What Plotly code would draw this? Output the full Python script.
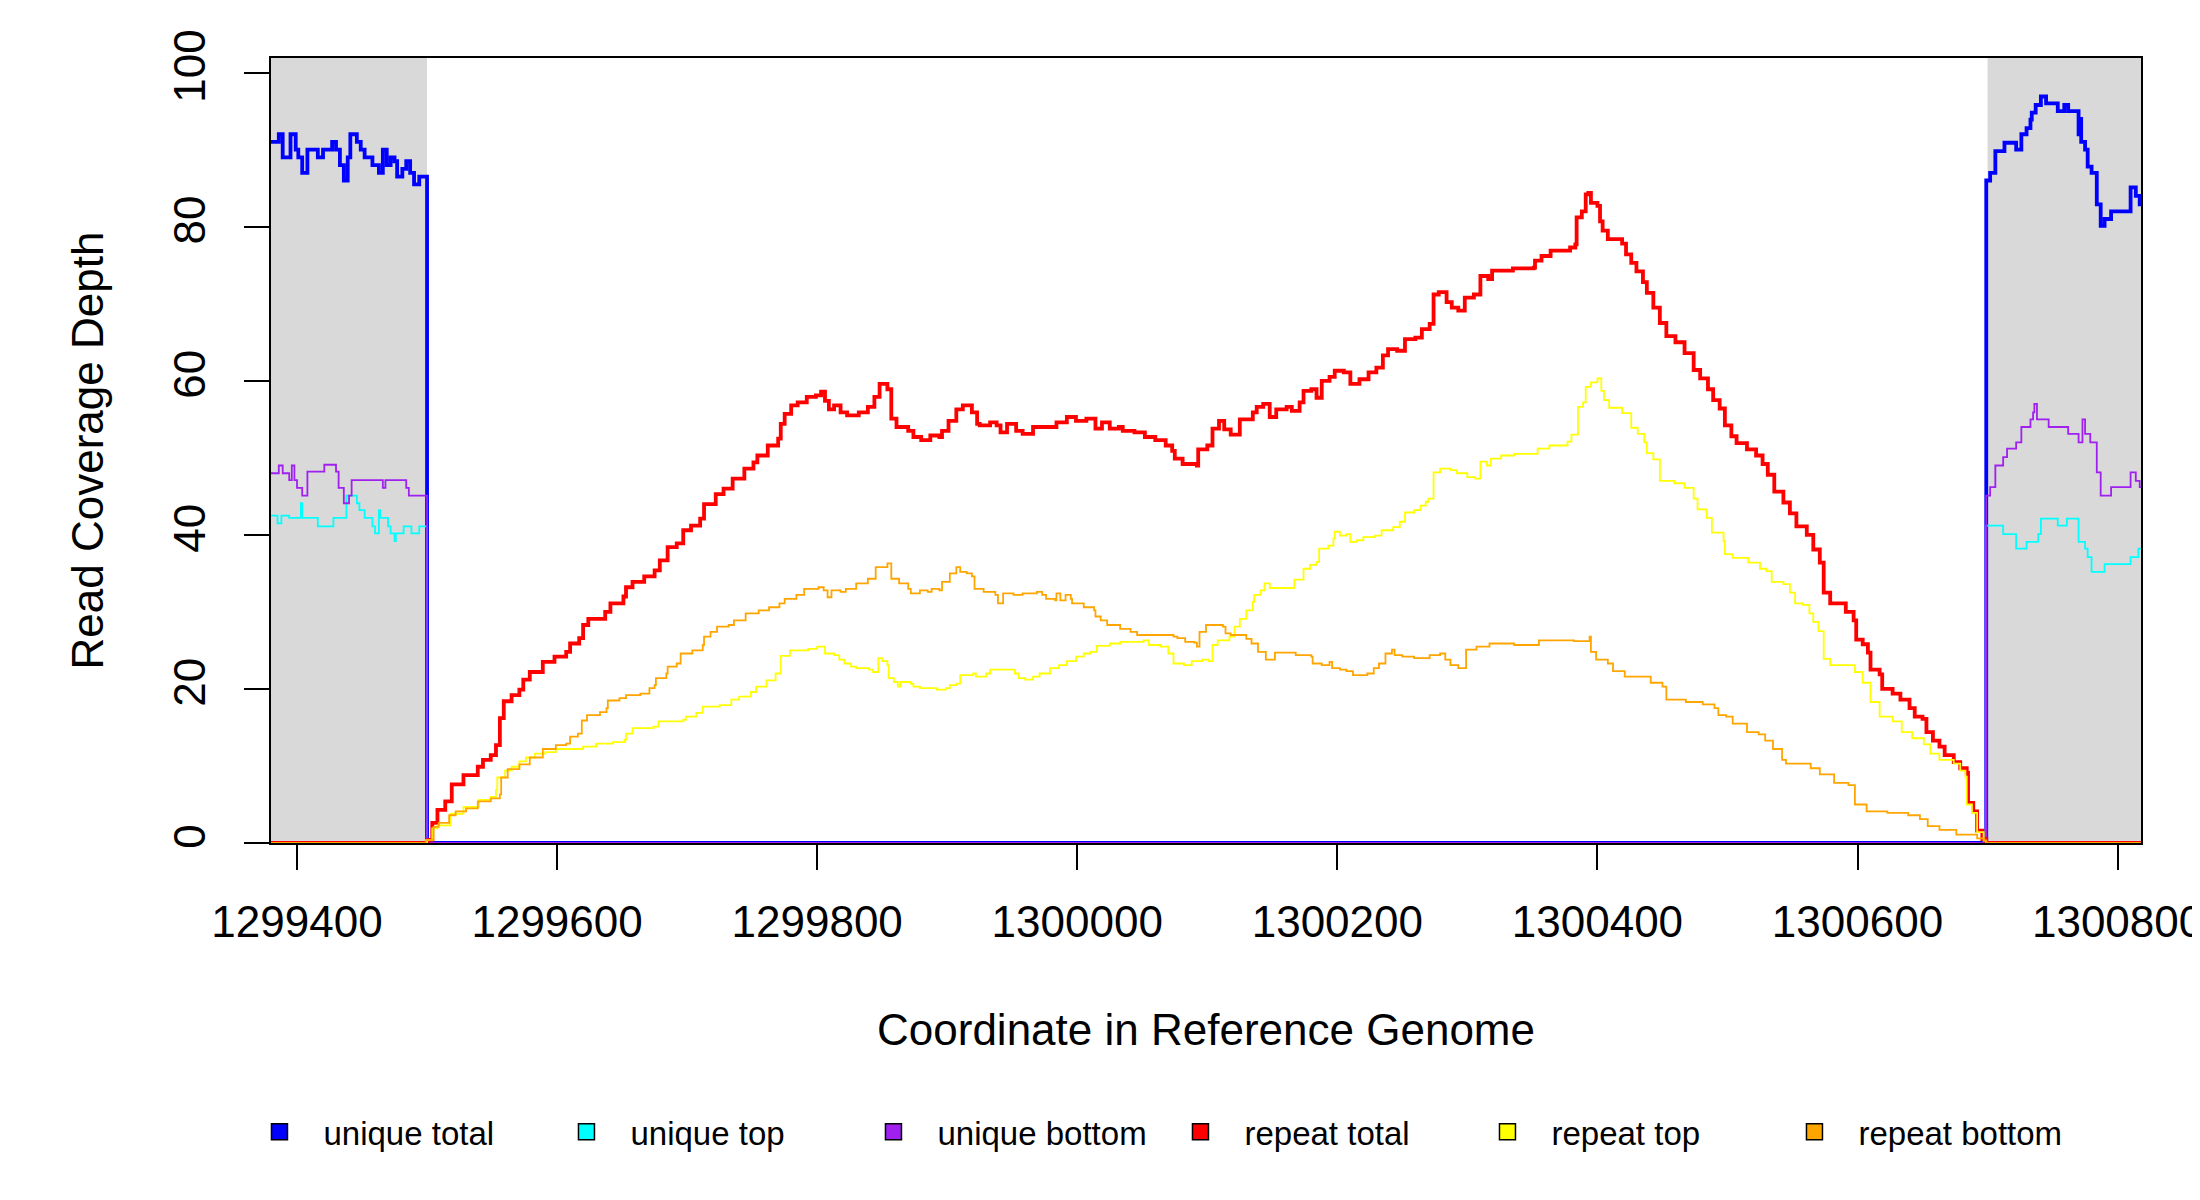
import plotly.graph_objects as go

FONT = "Liberation Sans, Arial, Helvetica, sans-serif"

# ---------------- data ----------------
x_range = [1299380, 1300818]
y_range = [0, 101.9]
flank_left = [1299380, 1299500]
flank_right = [1300700, 1300818]
x_ticks = [1299400, 1299600, 1299800, 1300000, 1300200, 1300400, 1300600, 1300800]
y_ticks = [0, 20, 40, 60, 80, 100]

unique_total_x = [1299380, 1299386, 1299389, 1299395, 1299399, 1299401, 1299404, 1299408, 1299416, 1299420,
                  1299427, 1299430, 1299433, 1299436, 1299439, 1299441, 1299446, 1299449, 1299452, 1299458,
                  1299463, 1299466, 1299469, 1299472, 1299475, 1299477, 1299481, 1299484, 1299487, 1299490,
                  1299494, 1299500, 1300699, 1300702, 1300706, 1300713, 1300722, 1300726, 1300730, 1300733,
                  1300734, 1300737, 1300741, 1300745, 1300754, 1300759, 1300762, 1300770, 1300771, 1300772,
                  1300775, 1300777, 1300780, 1300784, 1300787, 1300790, 1300795, 1300810, 1300814, 1300817,
                  1300818]
unique_total_y = [91, 92, 89, 92, 90, 89, 87, 90, 89, 90,
                  91, 90, 88, 86, 89, 92, 91, 90, 89, 88,
                  87, 90, 88, 89, 88.5, 86.5, 87.5, 88.5, 87, 85.5,
                  86.5, 0, 86, 87, 89.8, 90.9, 90, 92, 92.8, 93.9,
                  94.8, 95.8, 96.9, 96, 95, 95.8, 95, 92, 94, 91,
                  90, 87.8, 87, 82.9, 80.1, 81, 82, 85.1, 84, 82.9,
                  82.9]

unique_top_x = [1299380, 1299385, 1299388, 1299394, 1299403, 1299404, 1299416, 1299428, 1299438, 1299446,
                1299448, 1299452, 1299458, 1299460, 1299463, 1299464, 1299470, 1299472, 1299475, 1299476,
                1299482, 1299488, 1299494, 1299500, 1300699, 1300712, 1300722, 1300730, 1300739, 1300741,
                1300754, 1300761, 1300770, 1300775, 1300777, 1300780, 1300790, 1300810, 1300816, 1300818]
unique_top_y = [42.5, 41.5, 42.5, 42.2, 44.1, 42.2, 41.1, 42.2, 45.1, 44.1,
                43.2, 42.2, 41.1, 40.2, 43.2, 42.2, 41.1, 40.2, 39.2, 40.2,
                41.1, 40.2, 41.1, 0, 41.2, 40.1, 38.2, 39.1, 40.1, 42.1,
                41.2, 42.1, 39.1, 38.2, 37.1, 35.2, 36.2, 37.1, 38.2, 38.2]

unique_bottom_x = [1299380, 1299386, 1299389, 1299394, 1299396, 1299398, 1299400, 1299404, 1299408, 1299421,
                   1299430, 1299432, 1299436, 1299440, 1299442, 1299466, 1299468, 1299484, 1299486, 1299500,
                   1300699, 1300702, 1300706, 1300712, 1300715, 1300722, 1300726, 1300733, 1300735, 1300736,
                   1300738, 1300747, 1300762, 1300770, 1300773, 1300775, 1300779, 1300784, 1300787, 1300795,
                   1300810, 1300814, 1300817, 1300818]
unique_bottom_y = [48, 49, 48, 47.1, 49.0, 47.1, 46.1, 45.1, 48.2, 49.1,
                   48.2, 46.1, 44.1, 45.1, 47.1, 46.1, 47.1, 46.1, 45.1, 0,
                   45.1, 46.2, 49.0, 50.1, 51.2, 52.0, 54.0, 55.0, 55.9, 57.0,
                   55.0, 54.0, 53.1, 52.0, 55.0, 53.1, 52.0, 48.1, 45.1, 46.2,
                   48.1, 47.0, 46.2, 46.2]

repeat_total_x = [1299380, 1299501, 1299504, 1299508, 1299514, 1299519, 1299528, 1299539, 1299543, 1299549,
                  1299553, 1299556, 1299559, 1299565, 1299571, 1299574, 1299579, 1299589, 1299598, 1299607,
                  1299610, 1299617, 1299620, 1299624, 1299637, 1299641, 1299651, 1299653, 1299658, 1299667,
                  1299675, 1299679, 1299685, 1299692, 1299697, 1299703, 1299710, 1299713, 1299722, 1299728,
                  1299735, 1299744, 1299751, 1299754, 1299762, 1299770, 1299772, 1299775, 1299780, 1299785,
                  1299792, 1299799, 1299803, 1299806, 1299809, 1299813, 1299818, 1299823, 1299832, 1299839,
                  1299844, 1299848, 1299854, 1299857, 1299861, 1299870, 1299874, 1299880, 1299887, 1299894,
                  1299896, 1299901, 1299907, 1299912, 1299919, 1299923, 1299925, 1299933, 1299938, 1299941,
                  1299946, 1299953, 1299958, 1299966, 1299984, 1299992, 1299999, 1300007, 1300014, 1300019,
                  1300025, 1300032, 1300035, 1300044, 1300052, 1300060, 1300068, 1300073, 1300075, 1300081,
                  1300092, 1300093, 1300100, 1300104, 1300109, 1300113, 1300118, 1300125, 1300135, 1300138,
                  1300143, 1300148, 1300153, 1300161, 1300165, 1300171, 1300174, 1300180, 1300184, 1300188,
                  1300194, 1300198, 1300205, 1300210, 1300217, 1300224, 1300230, 1300235, 1300239, 1300246,
                  1300252, 1300260, 1300265, 1300271, 1300274, 1300278, 1300284, 1300288, 1300293, 1300298,
                  1300305, 1300310, 1300316, 1300319, 1300335, 1300351, 1300352, 1300357, 1300364, 1300379,
                  1300383, 1300384, 1300388, 1300391, 1300393, 1300395, 1300400, 1300402, 1300404, 1300408,
                  1300419, 1300422, 1300426, 1300430, 1300435, 1300438, 1300443, 1300448, 1300453, 1300460,
                  1300467, 1300474, 1300479, 1300485, 1300489, 1300494, 1300498, 1300503, 1300507, 1300515,
                  1300522, 1300527, 1300531, 1300536, 1300543, 1300548, 1300553, 1300561, 1300566, 1300571,
                  1300574, 1300579, 1300591, 1300597, 1300599, 1300604, 1300608, 1300610, 1300617, 1300619,
                  1300627, 1300633, 1300640, 1300644, 1300650, 1300653, 1300658, 1300663, 1300667, 1300674,
                  1300679, 1300684, 1300685, 1300689, 1300692, 1300696, 1300699, 1300818]
repeat_total_y = [0, 0.4, 2.6, 4.3, 5.4, 7.6, 8.8, 9.9, 10.8, 11.4,
                  12.7, 16.2, 18.4, 19.2, 19.9, 21.2, 22.2, 23.5, 24.2, 24.8,
                  25.9, 26.6, 28.3, 29.1, 30.0, 31.1, 32.0, 33.2, 33.9, 34.6,
                  35.4, 36.7, 38.4, 38.9, 40.6, 41.2, 42.1, 44.0, 45.3, 46.0,
                  47.3, 48.6, 49.4, 50.3, 51.6, 52.5, 54.4, 55.7, 56.8, 57.2,
                  57.9, 58.1, 58.6, 57.4, 56.3, 56.8, 55.9, 55.5, 55.9, 56.6,
                  57.9, 59.6, 58.9, 55.1, 54.0, 53.5, 52.7, 52.3, 52.9, 52.7,
                  53.5, 54.8, 56.3, 56.8, 55.9, 54.4, 54.2, 54.6, 54.2, 53.3,
                  54.4, 53.5, 53.1, 54.0, 54.6, 55.3, 54.8, 55.1, 53.8, 54.6,
                  53.8, 54.0, 53.5, 53.3, 52.7, 52.3, 51.6, 50.9, 49.9, 49.2,
                  49.0, 51.1, 51.6, 53.8, 54.8, 53.7, 53.0, 55.0, 55.9, 56.6,
                  57.0, 55.3, 56.3, 56.6, 56.1, 57.2, 58.7, 58.9, 57.8, 60.0,
                  60.5, 61.3, 61.1, 59.6, 60.2, 61.1, 61.7, 63.3, 64.1, 63.9,
                  65.4, 65.6, 66.7, 67.4, 71.2, 71.5, 70.2, 69.5, 69.1, 70.8,
                  71.2, 73.6, 73.2, 74.3, 74.6, 74.7, 75.6, 76.2, 76.9, 77.3,
                  77.7, 81.2, 82.0, 84.2, 84.4, 83.1, 82.7, 80.7, 79.5, 78.4,
                  77.8, 76.4, 75.3, 74.2, 72.8, 71.4, 69.5, 67.5, 65.8, 65.0,
                  63.6, 61.4, 60.3, 58.9, 57.5, 56.4, 54.2, 52.8, 51.9, 51.1,
                  50.3, 49.2, 47.8, 45.6, 44.2, 42.8, 41.1, 40.0, 38.1, 36.4,
                  32.5, 31.1, 30.0, 28.9, 26.4, 25.8, 24.7, 22.5, 21.9, 20.0,
                  19.4, 18.6, 17.5, 16.4, 16.1, 14.4, 13.3, 12.5, 11.4, 10.5,
                  9.7, 9.1, 5.2, 4.1, 1.6, 0.5, 0, 0]

repeat_top_x = [1299380, 1299500, 1299504, 1299508, 1299518, 1299528, 1299540, 1299549, 1299553, 1299554,
                1299560, 1299565, 1299571, 1299576, 1299583, 1299591, 1299599, 1299620, 1299630, 1299643,
                1299652, 1299653, 1299658, 1299674, 1299678, 1299697, 1299699, 1299707, 1299712, 1299725,
                1299734, 1299740, 1299749, 1299753, 1299761, 1299768, 1299772, 1299779, 1299793, 1299800,
                1299806, 1299813, 1299817, 1299821, 1299826, 1299830, 1299840, 1299843, 1299847, 1299850,
                1299854, 1299855, 1299859, 1299862, 1299864, 1299872, 1299874, 1299879, 1299892, 1299899,
                1299902, 1299907, 1299910, 1299920, 1299922, 1299930, 1299933, 1299952, 1299955, 1299960,
                1299966, 1299971, 1299979, 1299986, 1299992, 1299999, 1300005, 1300010, 1300015, 1300025,
                1300033, 1300051, 1300055, 1300064, 1300070, 1300074, 1300082, 1300088, 1300096, 1300101,
                1300104, 1300108, 1300117, 1300121, 1300125, 1300130, 1300135, 1300136, 1300141, 1300144,
                1300148, 1300167, 1300174, 1300179, 1300184, 1300186, 1300193, 1300197, 1300198, 1300202,
                1300207, 1300210, 1300215, 1300220, 1300229, 1300234, 1300243, 1300248, 1300252, 1300259,
                1300264, 1300268, 1300270, 1300274, 1300279, 1300287, 1300292, 1300300, 1300306, 1300310,
                1300315, 1300318, 1300326, 1300336, 1300354, 1300363, 1300377, 1300380, 1300385, 1300389,
                1300391, 1300395, 1300400, 1300403, 1300405, 1300409, 1300419, 1300426, 1300431, 1300436,
                1300438, 1300443, 1300448, 1300459, 1300467, 1300474, 1300477, 1300484, 1300488, 1300497,
                1300498, 1300504, 1300516, 1300525, 1300530, 1300534, 1300543, 1300548, 1300552, 1300558,
                1300563, 1300566, 1300570, 1300574, 1300579, 1300598, 1300604, 1300610, 1300617, 1300627,
                1300634, 1300642, 1300651, 1300656, 1300663, 1300674, 1300679, 1300683, 1300684, 1300688,
                1300692, 1300697, 1300699, 1300818]
repeat_top_y = [0, 0.4, 1.9, 2.3, 3.8, 4.7, 5.6, 6.0, 6.9, 8.5,
                9.4, 9.9, 10.6, 11.1, 11.6, 11.8, 12.2, 12.5, 12.9, 13.1,
                13.4, 14.2, 14.9, 15.1, 15.8, 16.0, 16.4, 16.9, 17.7, 17.9,
                18.6, 19.0, 19.6, 20.3, 21.1, 22.0, 24.3, 25.0, 25.2, 25.5,
                24.6, 24.4, 23.8, 23.3, 22.9, 22.7, 22.5, 22.2, 24.0, 23.6,
                23.1, 21.4, 20.9, 20.3, 20.9, 20.7, 20.3, 20.1, 19.9, 20.1,
                20.5, 20.7, 21.8, 22.0, 21.6, 22.0, 22.5, 22.0, 21.4, 21.2,
                21.6, 22.0, 22.7, 23.1, 23.6, 24.2, 24.6, 24.8, 25.6, 25.9,
                26.1, 26.3, 25.7, 25.5, 24.6, 23.3, 23.1, 23.6, 23.8, 23.6,
                25.7, 26.3, 26.8, 28.1, 29.1, 30.2, 31.3, 32.2, 32.8, 33.7,
                33.1, 34.2, 35.6, 36.1, 36.5, 38.2, 38.6, 39.5, 40.4, 39.9,
                40.1, 39.1, 39.3, 39.7, 39.9, 40.6, 41.0, 41.7, 42.9, 43.2,
                43.8, 44.3, 44.7, 48.1, 48.6, 48.4, 48.0, 47.5, 47.3, 49.5,
                49.0, 49.9, 50.3, 50.5, 51.2, 51.6, 52.1, 53.0, 56.6, 57.2,
                59.2, 59.8, 60.3, 58.7, 57.5, 56.5, 55.8, 53.9, 53.1, 52.0,
                50.6, 49.8, 47.0, 46.7, 46.1, 44.7, 43.3, 42.2, 40.3, 39.2,
                37.5, 37.0, 36.4, 35.6, 35.3, 33.9, 33.6, 32.5, 31.1, 30.9,
                29.8, 28.7, 27.5, 23.9, 23.1, 22.2, 20.8, 18.3, 16.4, 15.8,
                14.4, 13.6, 12.8, 11.6, 10.8, 10.3, 9.4, 8.6, 5.0, 3.9,
                1.4, 0.3, 0, 0]

repeat_bottom_x = [1299380, 1299499, 1299505, 1299509, 1299517, 1299522, 1299530, 1299539, 1299549, 1299556,
                   1299557, 1299562, 1299571, 1299579, 1299589, 1299599, 1299607, 1299610, 1299616, 1299619,
                   1299623, 1299633, 1299638, 1299639, 1299648, 1299653, 1299664, 1299671, 1299675, 1299676,
                   1299684, 1299685, 1299692, 1299695, 1299704, 1299712, 1299713, 1299718, 1299723, 1299732,
                   1299736, 1299745, 1299755, 1299763, 1299771, 1299775, 1299784, 1299790, 1299801, 1299805,
                   1299808, 1299811, 1299818, 1299822, 1299830, 1299839, 1299845, 1299854, 1299857, 1299863,
                   1299870, 1299872, 1299879, 1299885, 1299888, 1299894, 1299896, 1299902, 1299907, 1299910,
                   1299915, 1299919, 1299921, 1299928, 1299937, 1299939, 1299943, 1299951, 1299958, 1299969,
                   1299973, 1299976, 1299983, 1299984, 1299987, 1299991, 1299995, 1299996, 1300005, 1300013,
                   1300014, 1300018, 1300023, 1300033, 1300041, 1300046, 1300074, 1300077, 1300083, 1300090,
                   1300092, 1300094, 1300099, 1300112, 1300114, 1300118, 1300127, 1300130, 1300134, 1300139,
                   1300145, 1300152, 1300168, 1300180, 1300181, 1300188, 1300194, 1300196, 1300202, 1300207,
                   1300212, 1300223, 1300228, 1300232, 1300237, 1300242, 1300244, 1300250, 1300259, 1300271,
                   1300279, 1300283, 1300287, 1300293, 1300299, 1300307, 1300317, 1300336, 1300355, 1300382,
                   1300394, 1300395, 1300399, 1300408, 1300412, 1300421, 1300441, 1300450, 1300453, 1300468,
                   1300481, 1300490, 1300493, 1300499, 1300504, 1300515, 1300524, 1300529, 1300535, 1300542,
                   1300545, 1300564, 1300571, 1300582, 1300593, 1300598, 1300607, 1300623, 1300639, 1300648,
                   1300654, 1300663, 1300676, 1300692, 1300697, 1300699, 1300818]
repeat_bottom_y = [0, 0.4, 2.1, 2.6, 3.6, 4.1, 4.5, 5.4, 5.8, 6.3,
                   8.5, 9.6, 10.2, 11.1, 12.2, 12.7, 12.9, 13.8, 14.2, 15.9,
                   16.6, 17.0, 17.5, 18.5, 18.8, 19.2, 19.4, 20.1, 20.5, 21.4,
                   22.0, 22.9, 23.3, 24.6, 25.0, 25.7, 26.8, 27.4, 28.1, 28.3,
                   28.9, 29.8, 30.2, 30.6, 31.1, 31.7, 32.2, 33.0, 33.2, 32.8,
                   31.9, 32.8, 32.6, 33.0, 33.7, 34.3, 35.8, 36.3, 34.3, 33.7,
                   33.0, 32.4, 32.8, 32.6, 33.0, 32.8, 33.9, 35.0, 35.8, 35.2,
                   35.0, 34.6, 33.0, 32.6, 32.2, 31.1, 32.4, 32.2, 32.4, 32.6,
                   32.2, 31.7, 31.5, 32.4, 31.5, 32.2, 31.7, 31.1, 30.6, 30.2,
                   29.4, 28.9, 28.3, 27.8, 27.4, 27.0, 26.8, 26.6, 26.1, 26.0,
                   25.5, 27.4, 28.3, 28.1, 27.2, 27.0, 27.0, 26.5, 25.9, 24.8,
                   23.8, 24.7, 24.4, 24.2, 23.3, 23.1, 23.5, 22.7, 22.5, 22.3,
                   21.8, 22.0, 22.7, 23.3, 24.6, 25.1, 24.4, 24.2, 24.0, 24.4,
                   24.6, 23.8, 23.1, 22.7, 25.1, 25.5, 25.9, 25.7, 26.3, 26.2,
                   26.8, 24.8, 23.8, 23.3, 22.3, 21.6, 20.8, 20.3, 18.6, 18.3,
                   18.0, 17.5, 16.6, 16.4, 15.5, 14.4, 14.1, 13.3, 12.2, 10.8,
                   10.3, 9.7, 8.9, 7.8, 7.5, 5.0, 4.1, 3.9, 3.6, 3.1,
                   2.2, 1.7, 1.1, 0.6, 0.3, 0, 0]

series = [
    ("unique total", unique_total_x, unique_total_y, "#0000FF", 3.8),
    ("unique top", unique_top_x, unique_top_y, "#00FFFF", 1.8),
    ("unique bottom", unique_bottom_x, unique_bottom_y, "#A020F0", 1.8),
    ("repeat total", repeat_total_x, repeat_total_y, "#FF0000", 3.8),
    ("repeat top", repeat_top_x, repeat_top_y, "#FFFF00", 1.8),
    ("repeat bottom", repeat_bottom_x, repeat_bottom_y, "#FFA500", 1.8),
]

fig = go.Figure()

for name, xs, ys, color, width in series:
    fig.add_trace(go.Scatter(
        x=xs, y=ys, mode="lines", name=name, showlegend=False,
        line=dict(color=color, width=width, shape="hv"),
        hoverinfo="skip",
    ))

# legend entries shown as filled squares
for name, xs, ys, color, width in series:
    fig.add_trace(go.Scatter(
        x=[None], y=[None], mode="markers", name=name, showlegend=True,
        marker=dict(symbol="square", size=22, color=color,
                    line=dict(color="#000000", width=1.5)),
    ))

# grey flank regions
for x0, x1 in (flank_left, flank_right):
    fig.add_shape(type="rect", xref="x", yref="paper", x0=x0, x1=x1, y0=0, y1=1,
                  fillcolor="#D9D9D9", line=dict(width=0), layer="below")

# page body has an 8px margin, so the figure is sized to fit inside 2200x1200
fig.update_layout(
    width=2184, height=1184,
    margin=dict(l=263, r=51, t=50, b=349, autoexpand=False),
    paper_bgcolor="white", plot_bgcolor="white",
    font=dict(family=FONT, size=44, color="black"),
    showlegend=True,
    legend=dict(
        orientation="h", x=-0.019, xanchor="left", y=-0.368, yanchor="middle",
        entrywidth=214, entrywidthmode="pixels", itemwidth=78,
        font=dict(family=FONT, size=33, color="black"),
        bgcolor="rgba(0,0,0,0)", borderwidth=0, traceorder="normal",
    ),
)

fig.update_xaxes(
    range=x_range, tickmode="array", tickvals=x_ticks,
    ticktext=[str(v) for v in x_ticks],
    ticks="outside", ticklen=25, tickwidth=1.5, tickcolor="black",
    ticklabelstandoff=14, ticklabeloverflow="allow",
    showline=True, linecolor="black", linewidth=1.5, mirror=True,
    showgrid=False, zeroline=False,
    tickfont=dict(family=FONT, size=44, color="black"),
    title=dict(text="Coordinate in Reference Genome", standoff=70,
               font=dict(family=FONT, size=44, color="black")),
)
fig.update_yaxes(
    range=y_range, tickmode="array", tickvals=y_ticks,
    ticks="outside", ticklen=25, tickwidth=1.5, tickcolor="black",
    tickangle=-90, ticklabelstandoff=22,
    showline=True, linecolor="black", linewidth=1.5, mirror=True,
    showgrid=False, zeroline=False,
    tickfont=dict(family=FONT, size=44, color="black"),
    title=dict(text="Read Coverage Depth", standoff=47,
               font=dict(family=FONT, size=44, color="black")),
)

fig.write_html("out.html")
